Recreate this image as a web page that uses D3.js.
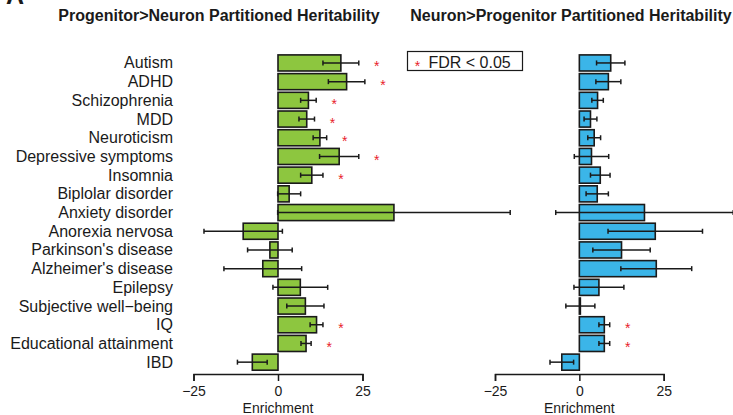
<!DOCTYPE html>
<html>
<head>
<meta charset="utf-8">
<script src="https://cdn.jsdelivr.net/npm/d3@7"></script>
<style>
  body { margin: 0; background: #fff; }
  text { font-family: Arial, "Liberation Sans", sans-serif; fill: #1a1a1a; }
  .axis path, .axis line { stroke: #1a1a1a; stroke-width: 1.5; }
  .axis text { font-size: 14px; }
</style>
</head>
<body>
<script>
var width = 733,
  height = 415;

var traits = [
  "Autism", "ADHD", "Schizophrenia", "MDD", "Neuroticism",
  "Depressive symptoms", "Insomnia", "Biplolar disorder", "Anxiety disorder",
  "Anorexia nervosa", "Parkinson's disease", "Alzheimer's disease", "Epilepsy",
  "Subjective well\u2212being", "IQ", "Educational attainment", "IBD"
];

// Progenitor>Neuron
var pnValue = [18.6, 20.3, 9.0, 8.5, 12.4, 18.1, 10.0, 3.3, 34.3, -10.3, -2.4, -4.5, 6.6, 8.1, 11.4, 8.3, -7.6];
var pnErr   = [5.3, 5.4, 2.3, 2.3, 2.0, 5.8, 3.3, 3.4, 34.4, 11.6, 6.6, 11.5, 8.1, 5.5, 1.9, 1.5, 4.4];
var pnSig   = [1, 1, 1, 1, 1, 1, 1, 0, 0, 0, 0, 0, 0, 0, 1, 1, 0];

// Neuron>Progenitor
var npValue = [9.3, 8.6, 5.4, 3.3, 4.4, 3.6, 6.2, 5.3, 19.3, 22.5, 12.5, 22.8, 5.8, 0.3, 7.4, 7.4, -5.2];
var npErr   = [4.2, 3.7, 1.7, 1.9, 1.9, 5.1, 2.9, 3.3, 26.3, 14.0, 8.5, 10.5, 7.4, 4.3, 1.6, 1.6, 3.5];
var npSig   = [0, 0, 0, 0, 0, 0, 0, 0, 0, 0, 0, 0, 0, 0, 1, 1, 0];

var tickValues = [-25, 0, 25];

var svg = d3.select("body").append("svg")
  .attr("width", width)
  .attr("height", height);

var y = d3.scaleBand()
  .domain(traits)
  .range([53.6, 371.5])
  .paddingInner(0.14)
  .paddingOuter(0.07);

// panel label, cut off at the top like the original
svg.append("text")
  .attr("x", 6)
  .attr("y", 4)
  .attr("font-size", "25px")
  .attr("font-weight", "bold")
  .text("A");

svg.append("g")
  .selectAll("text")
  .data(traits)
  .enter().append("text")
    .attr("x", 173)
    .attr("y", function(d) { return y(d) + y.bandwidth() / 2 + 5.5; })
    .attr("text-anchor", "end")
    .attr("font-size", "16px")
    .text(function(d) { return d; });

function panel(title, values, errs, sig, color, x0, x1, titleX) {
  var x = d3.scaleLinear()
    .domain([-25, 25])
    .range([x0, x1]);

  var rows = traits.map(function(t, i) {
    return { name: t, value: values[i], err: errs[i], sig: sig[i] };
  });

  var g = svg.append("g");

  g.append("text")
    .attr("x", titleX)
    .attr("y", 21)
    .attr("text-anchor", "middle")
    .attr("font-size", "16px")
    .attr("font-weight", "bold")
    .text(title);

  g.selectAll("rect.bar")
    .data(rows)
    .enter().append("rect")
      .attr("class", "bar")
      .attr("x", function(d) { return x(Math.min(0, d.value)); })
      .attr("y", function(d) { return y(d.name); })
      .attr("width", function(d) { return Math.abs(x(d.value) - x(0)); })
      .attr("height", y.bandwidth())
      .attr("fill", color)
      .attr("stroke", "#1a1a1a")
      .attr("stroke-width", 1.6);

  var err = g.selectAll("g.err")
    .data(rows)
    .enter().append("g")
      .attr("class", "err")
      .attr("transform", function(d) { return "translate(0," + (y(d.name) + y.bandwidth() / 2) + ")"; })
      .attr("stroke", "#1a1a1a")
      .attr("stroke-width", 1.5);

  err.append("line")
    .attr("x1", function(d) { return x(d.value - d.err); })
    .attr("x2", function(d) { return x(d.value + d.err); });

  err.append("line")
    .attr("x1", function(d) { return x(d.value - d.err); })
    .attr("x2", function(d) { return x(d.value - d.err); })
    .attr("y1", -2.5)
    .attr("y2", 2.5);

  err.append("line")
    .attr("x1", function(d) { return x(d.value + d.err); })
    .attr("x2", function(d) { return x(d.value + d.err); })
    .attr("y1", -2.5)
    .attr("y2", 2.5);

  g.selectAll("text.star")
    .data(rows.filter(function(d) { return d.sig; }))
    .enter().append("text")
      .attr("class", "star")
      .attr("x", function(d) { return x(d.value + d.err) + 18; })
      .attr("y", function(d) { return y(d.name) + y.bandwidth() / 2 + 8.5; })
      .attr("text-anchor", "middle")
      .attr("font-size", "14px")
      .style("fill", "#e8212b")
      .text("*");

  g.append("g")
    .attr("class", "axis")
    .attr("transform", "translate(0,374)")
    .call(d3.axisBottom(x)
      .tickValues(tickValues)
      .tickSize(7)
      .tickPadding(5))
    .call(function(a) { a.selectAll("text").attr("fill", "#1a1a1a").attr("font-family", null); });

  g.append("text")
    .attr("x", x(0))
    .attr("y", 413)
    .attr("text-anchor", "middle")
    .attr("font-size", "14px")
    .text("Enrichment");
}

panel("Progenitor>Neuron Partitioned Heritability", pnValue, pnErr, pnSig, "#8dc63f", 193.5, 362.5, 219);
panel("Neuron>Progenitor Partitioned Heritability", npValue, npErr, npSig, "#3bb5e8", 495, 663.7, 571);

// legend
var legend = svg.append("g")
  .attr("transform", "translate(407.5,51.5)");

legend.append("rect")
  .attr("width", 115)
  .attr("height", 19)
  .attr("fill", "#fff")
  .attr("stroke", "#1a1a1a")
  .attr("stroke-width", 1.2);

legend.append("text")
  .attr("x", 10)
  .attr("y", 19)
  .attr("text-anchor", "middle")
  .attr("font-size", "14px")
  .style("fill", "#e8212b")
  .text("*");

legend.append("text")
  .attr("x", 21)
  .attr("y", 16.5)
  .attr("font-size", "16px")
  .text("FDR < 0.05");
</script>
</body>
</html>
